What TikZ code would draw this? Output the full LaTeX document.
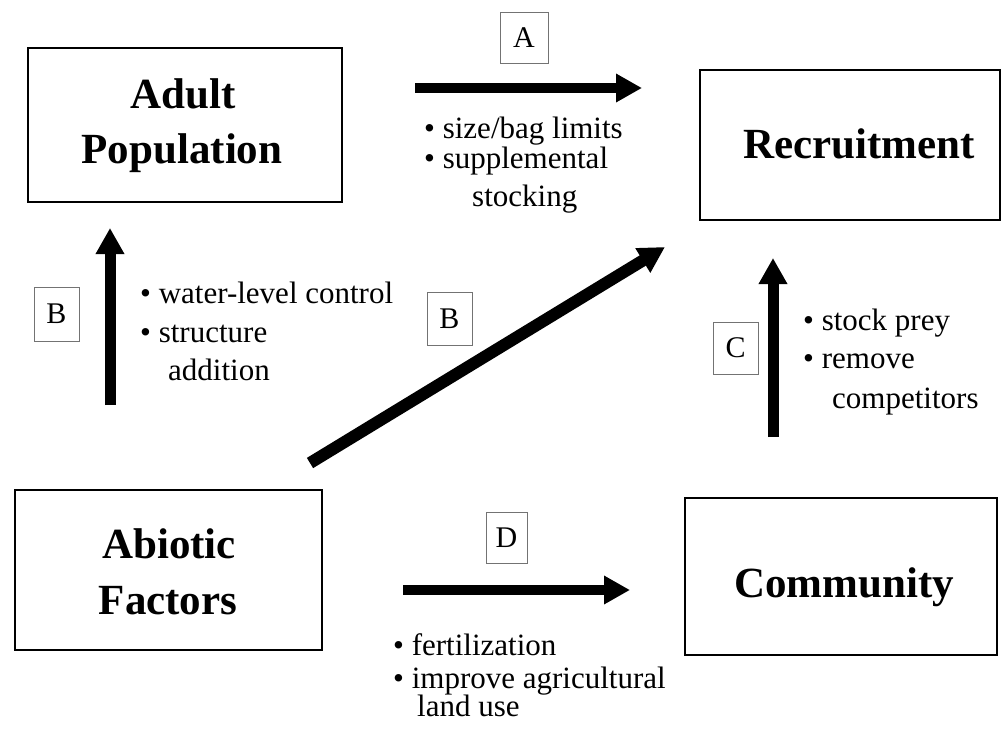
\documentclass[tikz,border=0pt]{standalone}
\usepackage{fontspec}
\setmainfont{Liberation Serif}
\usetikzlibrary{arrows.meta}
\begin{document}
\begin{tikzpicture}[x=1pt,y=-1pt,
  mainbox/.style={draw=black,line width=2pt,inner sep=0pt},
  title/.style={font=\fontsize{43}{51}\selectfont\bfseries,anchor=base,inner sep=0pt},
  letterbox/.style={draw=black!55,line width=0.8pt,font=\fontsize{30}{30}\selectfont,inner sep=0pt},
  fatarrow/.style={line width=10pt,-{Triangle[length=26pt,width=27pt]}},
  lbl/.style={font=\fontsize{31}{31}\selectfont,anchor=base west,inner sep=0pt}]
\useasboundingbox (0,0) rectangle (1002,737);
\fill[white] (0,0) rectangle (1002,737);

% main boxes
\node[mainbox,minimum width=314pt,minimum height=154pt] (adult) at (185,125) {};
\node[mainbox,minimum width=300pt,minimum height=150pt] (recruit) at (850,145) {};
\node[mainbox,minimum width=307pt,minimum height=160pt] (abiotic) at (168.5,570) {};
\node[mainbox,minimum width=312pt,minimum height=157pt] (community) at (841,576.5) {};

\node[title] (adultA) at (183,108) {Adult};
\node[title] (adultB) at (182,163) {Population};
\node[title] (recruitT) at (859,158) {Recruitment};
\node[title] (abioticA) at (169,558) {Abiotic};
\node[title] (abioticB) at (168,614) {Factors};
\node[title] (communityT) at (844,597) {Community};

% arrows
\coordinate (aS) at (415,88);  \coordinate (aE) at (642,88);
\coordinate (bS) at (110,405); \coordinate (bE) at (110,228);
\coordinate (dgS) at (310,463); \coordinate (dgE) at (665,247);
\coordinate (cS) at (773,437); \coordinate (cE) at (773,258);
\coordinate (dS) at (403,590); \coordinate (dE) at (630,590);
\draw[fatarrow] (aS) -- (aE);
\draw[fatarrow,line width=11pt] (bS) -- (bE);
\draw[fatarrow,line width=12pt] (dgS) -- (dgE);
\draw[fatarrow,line width=11pt] (cS) -- (cE);
\draw[fatarrow] (dS) -- (dE);

% letter boxes
\node[letterbox,minimum width=48pt,minimum height=51pt] (lA) at (524,38) {A};
\node[letterbox,minimum width=45pt,minimum height=54pt] (lB1) at (56.5,314) {B};
\node[letterbox,minimum width=45pt,minimum height=53pt] (lB2) at (449.5,318.5) {B};
\node[letterbox,minimum width=45pt,minimum height=52pt] (lC) at (735.5,348) {C};
\node[letterbox,minimum width=41pt,minimum height=51pt] (lD) at (506.5,537.5) {D};

% labels
\node[lbl] (tA1) at (424,138) {\textbullet\ size/bag limits};
\node[lbl] (tA2) at (424,168) {\textbullet\ supplemental};
\node[lbl] (tA3) at (472,206) {stocking};

\node[lbl] (tB1) at (140,303) {\textbullet\ water-level control};
\node[lbl] (tB2) at (140,342) {\textbullet\ structure};
\node[lbl] (tB3) at (168,380) {addition};

\node[lbl] (tC1) at (803,330) {\textbullet\ stock prey};
\node[lbl] (tC2) at (803,368) {\textbullet\ remove};
\node[lbl] (tC3) at (832,408) {competitors};

\node[lbl] (tD1) at (393,655) {\textbullet\ fertilization};
\node[lbl] (tD2) at (393,688) {\textbullet\ improve agricultural};
\node[lbl] (tD3) at (417,716) {land use};
\end{tikzpicture}
\end{document}
